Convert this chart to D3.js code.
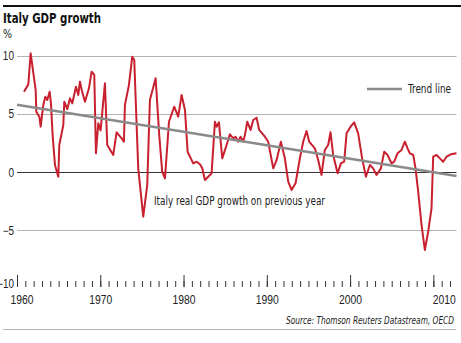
<!DOCTYPE html>
<html>
<head>
<meta charset="utf-8">
<script src="https://cdn.jsdelivr.net/npm/d3@7"></script>
<style>
  body { margin: 0; background: #fff; }
  svg { display: block; font-family: "Liberation Sans Narrow", "DejaVu Sans Condensed", "Arial Narrow", sans-serif; }
  .grid line { stroke: #b3b3b3; stroke-width: 1; }
  .grid line.zero { stroke: #333; }
  .ticks text { font-size: 12px; fill: #222; }
</style>
</head>
<body>
<svg id="chart" width="461" height="343"></svg>
<script>
"use strict";

// Italy real GDP growth (% on previous year)
const years = [
    1960.84, 1961.36, 1961.64, 1962.24, 1962.32, 1962.68, 1962.84, 1963.16, 1963.40, 1963.64,
    1963.92, 1964.08, 1964.28, 1964.56, 1964.96, 1965.08, 1965.56, 1965.68, 1966.04, 1966.36,
    1966.64, 1967.08, 1967.36, 1967.56, 1967.77, 1968.16, 1968.64, 1968.96, 1969.28, 1969.48,
    1969.76, 1970.04, 1970.56, 1970.84, 1971.56, 1971.96, 1972.57, 1972.84, 1972.96, 1973.44,
    1973.84, 1974.08, 1974.56, 1975.16, 1975.64, 1975.96, 1976.65, 1977.08, 1977.44, 1977.77,
    1978.25, 1978.88, 1979.36, 1979.77, 1980.17, 1980.49, 1981.16, 1981.57, 1981.97, 1982.25,
    1982.57, 1983.17, 1983.37, 1983.77, 1983.97, 1984.25, 1984.65, 1985.17, 1985.57, 1985.97,
    1986.25, 1986.57, 1986.85, 1987.17, 1987.37, 1987.65, 1988.05, 1988.37, 1988.77, 1989.09,
    1989.77, 1990.17, 1990.77, 1991.18, 1991.69, 1992.17, 1992.57, 1992.97, 1993.45, 1993.97,
    1994.37, 1994.77, 1995.09, 1995.77, 1996.17, 1996.57, 1996.97, 1997.37, 1997.65, 1997.97,
    1998.50, 1998.90, 1999.29, 1999.58, 2000.06, 2000.49, 2000.97, 2001.45, 2001.90, 2002.38,
    2002.77, 2003.18, 2003.70, 2004.10, 2004.50, 2004.98, 2005.30, 2005.70, 2006.18, 2006.58,
    2006.90, 2007.18, 2007.58, 2007.86, 2008.18, 2008.58, 2008.98, 2009.38, 2009.78, 2009.98,
    2010.38, 2010.78, 2011.18, 2011.58, 2012.10, 2012.78
];
const growth = [
    6.93, 7.56, 10.23, 7.08, 5.21, 4.78, 3.92, 5.79, 6.50, 6.22,
    6.93, 5.93, 3.20, 0.63, -0.38, 2.35, 4.07, 6.07, 5.44, 6.36,
    5.93, 7.36, 6.65, 7.79, 7.08, 6.07, 7.22, 8.65, 8.37, 1.63,
    4.21, 3.60, 7.65, 2.35, 1.49, 3.44, 2.92, 2.63, 5.79, 7.50,
    9.94, 9.66, 0.34, -3.82, -1.09, 6.22, 8.08, 3.20, 0.05, -0.52,
    4.35, 5.64, 4.78, 6.65, 5.36, 1.77, 0.77, 0.91, 0.69, 0.34,
    -0.66, -0.23, -0.09, 4.35, 3.92, 4.30, 1.20, 2.35, 3.27, 2.92,
    3.06, 2.63, 3.06, 2.63, 3.20, 4.35, 3.64, 4.50, 4.69, 3.64,
    3.06, 2.63, 0.34, 1.06, 2.63, 1.20, -0.81, -1.52, -0.95, 1.20,
    2.63, 3.55, 2.63, 2.06, 1.06, -0.23, 1.92, 2.35, 3.44, 1.49,
    -0.09, 0.77, 0.91, 3.35, 3.92, 4.30, 3.35, 1.20, -0.38, 0.63,
    0.34, -0.23, 0.34, 1.77, 1.49, 0.77, 0.91, 1.63, 1.92, 2.63,
    2.06, 1.63, 1.49, 0.34, -1.67, -4.53, -6.68, -5.10, -3.10, 1.34,
    1.49, 1.20, 0.91, 1.34, 1.55, 1.63
];

// linear trend, two end points
const trendYears = [1960, 2012.78];
const trendValues = [5.8, -0.32];

const yTicks = [10, 5, 0, -5, -10];
const gridTicks = [10, 5, 0, -5];
const decadeTicks = [1960, 1970, 1980, 1990, 2000, 2010];
const yearTicks = d3.range(1960, 2013);

const svg = d3.select("#chart");

const x = d3.scaleLinear().domain([1960, 2012.78]).range([17, 456.5]);
const y = d3.scaleLinear().domain([-10, 10]).range([288.6, 56]);

// the only font here is wider than the original condensed face, so squeeze text
function squeeze(sel, w) {
    sel.attr("textLength", w).attr("lengthAdjust", "spacingAndGlyphs");
}

// top rule + title
svg.append("line")
    .attr("x1", 3).attr("x2", 461).attr("y1", 6).attr("y2", 6)
    .attr("stroke", "#111").attr("stroke-width", 2);

svg.append("text")
    .attr("x", 3).attr("y", 23)
    .style("font-size", "14.5px").style("font-weight", "bold").attr("fill", "#111")
    .text("Italy GDP growth")
    .call(squeeze, 98);

svg.append("text")
    .attr("x", 3).attr("y", 38)
    .style("font-size", "12px").attr("fill", "#222")
    .text("%")
    .call(squeeze, 9);

// horizontal grid
svg.append("g")
    .attr("class", "grid")
    .selectAll("line")
    .data(gridTicks)
    .enter()
    .append("line")
    .attr("class", (d) => d === 0 ? "zero" : null)
    .attr("x1", x.range()[0])
    .attr("x2", x.range()[1])
    .attr("y1", (d) => Math.round(y(d)) + 0.5)
    .attr("y2", (d) => Math.round(y(d)) + 0.5);

// y labels
const yAxis = svg.append("g")
    .attr("class", "ticks")
    .attr("transform", "translate(17, 0)")
    .call(d3.axisLeft(y).tickValues(yTicks).tickSize(0).tickPadding(3).tickFormat(d3.format("d")));
yAxis.select(".domain").remove();
yAxis.selectAll("text")
    .attr("textLength", (d) => String(d).length * 5.6)
    .attr("lengthAdjust", "spacingAndGlyphs")
    .attr("y", (d) => d === -10 ? -5 : 0);

// x ticks: small yearly ones, tall ones on decades
const axisY = 287;
const minor = svg.append("g")
    .attr("transform", `translate(0, ${axisY})`)
    .call(d3.axisBottom(x).tickValues(yearTicks).tickSize(-6).tickFormat(""));
minor.select(".domain").remove();
minor.selectAll("line").attr("stroke", "#333");

const major = svg.append("g")
    .attr("class", "ticks")
    .attr("transform", `translate(0, ${axisY})`)
    .call(d3.axisBottom(x).tickValues(decadeTicks).tickSize(-12).tickPadding(8).tickFormat(d3.format("d")));
major.select(".domain").remove();
major.selectAll("line").attr("stroke", "#333");
major.selectAll("text")
    .call(squeeze, 23)
    .attr("text-anchor", (d) => d === 1960 ? "start" : d === 2010 ? "end" : "middle")
    .attr("x", (d) => d === 1960 ? -7 : d === 2010 ? 22 : 0);

// GDP line
const line = d3.line()
    .x((d, i) => x(years[i]))
    .y((d) => y(d));

svg.append("path")
    .datum(growth)
    .attr("fill", "none")
    .attr("stroke", "#c8202f")
    .attr("stroke-width", 2)
    .attr("stroke-linejoin", "round")
    .attr("d", line);

// trend line
const trendLine = d3.line()
    .x((d, i) => x(trendYears[i]))
    .y((d) => y(d));

svg.append("path")
    .datum(trendValues)
    .attr("fill", "none")
    .attr("stroke", "#8a8a8a")
    .attr("stroke-width", 2.5)
    .attr("d", trendLine);

// legend
svg.append("line")
    .attr("x1", 367).attr("x2", 402).attr("y1", 89).attr("y2", 89)
    .attr("stroke", "#8a8a8a").attr("stroke-width", 2.5);

svg.append("text")
    .attr("x", 408).attr("y", 93)
    .style("font-size", "12px").attr("fill", "#222")
    .text("Trend line")
    .call(squeeze, 43);

// series label
svg.append("text")
    .attr("x", 154).attr("y", 205)
    .style("font-size", "12px").attr("fill", "#222")
    .text("Italy real GDP growth on previous year")
    .call(squeeze, 171);

// source + bottom rule
svg.append("text")
    .attr("x", 454).attr("y", 324)
    .attr("text-anchor", "end")
    .style("font-size", "11px").style("font-style", "italic").attr("fill", "#222")
    .text("Source: Thomson Reuters Datastream, OECD")
    .call(squeeze, 168);

svg.append("line")
    .attr("x1", 3).attr("x2", 456).attr("y1", 329.5).attr("y2", 329.5)
    .attr("stroke", "#b3b3b3").attr("stroke-width", 1);
</script>
</body>
</html>
